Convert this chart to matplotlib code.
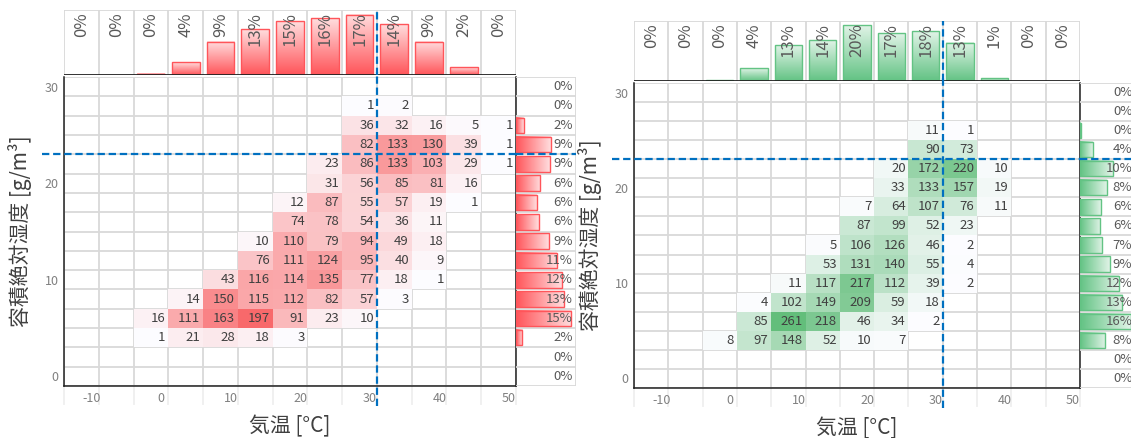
import numpy as np
import matplotlib
matplotlib.use('Agg')
import matplotlib.pyplot as plt
from matplotlib.colors import LinearSegmentedColormap, Normalize, to_rgb
from matplotlib.patches import Rectangle

plt.rcParams['font.family'] = ['Noto Sans CJK JP', 'DejaVu Sans']
plt.rcParams['axes.unicode_minus'] = False

W, H = 1131, 438

# bins: 5 degC wide temperature columns, 2 g/m3 tall humidity rows
temp_edges = np.arange(-14, 52, 5)
hum_edges = np.arange(-1, 32, 2)
temp_ticks = [-10, 0, 10, 20, 30, 40, 50]
hum_ticks = [0, 10, 20, 30]
temp_line = 31
hum_line = 23

xlabel = '気温 [°C]'
ylabel = '容積絶対湿度 [g/m³]'

# hours per bin, rows from 30 g/m3 (top) down to 0 g/m3, columns cold -> hot
red_counts = [
    [0, 0, 0, 0, 0, 0, 0, 0, 0, 0, 0, 0, 0],
    [0, 0, 0, 0, 0, 0, 0, 0, 1, 2, 0, 0, 0],
    [0, 0, 0, 0, 0, 0, 0, 0, 36, 32, 16, 5, 1],
    [0, 0, 0, 0, 0, 0, 0, 0, 82, 133, 130, 39, 1],
    [0, 0, 0, 0, 0, 0, 0, 23, 86, 133, 103, 29, 1],
    [0, 0, 0, 0, 0, 0, 0, 31, 56, 85, 81, 16, 0],
    [0, 0, 0, 0, 0, 0, 12, 87, 55, 57, 19, 1, 0],
    [0, 0, 0, 0, 0, 0, 74, 78, 54, 36, 11, 0, 0],
    [0, 0, 0, 0, 0, 10, 110, 79, 94, 49, 18, 0, 0],
    [0, 0, 0, 0, 0, 76, 111, 124, 95, 40, 9, 0, 0],
    [0, 0, 0, 0, 43, 116, 114, 135, 77, 18, 1, 0, 0],
    [0, 0, 0, 14, 150, 115, 112, 82, 57, 3, 0, 0, 0],
    [0, 0, 16, 111, 163, 197, 91, 23, 10, 0, 0, 0, 0],
    [0, 0, 1, 21, 28, 18, 3, 0, 0, 0, 0, 0, 0],
    [0, 0, 0, 0, 0, 0, 0, 0, 0, 0, 0, 0, 0],
    [0, 0, 0, 0, 0, 0, 0, 0, 0, 0, 0, 0, 0],
]
green_counts = [
    [0, 0, 0, 0, 0, 0, 0, 0, 0, 0, 0, 0, 0],
    [0, 0, 0, 0, 0, 0, 0, 0, 0, 0, 0, 0, 0],
    [0, 0, 0, 0, 0, 0, 0, 0, 11, 1, 0, 0, 0],
    [0, 0, 0, 0, 0, 0, 0, 0, 90, 73, 0, 0, 0],
    [0, 0, 0, 0, 0, 0, 0, 20, 172, 220, 10, 0, 0],
    [0, 0, 0, 0, 0, 0, 0, 33, 133, 157, 19, 0, 0],
    [0, 0, 0, 0, 0, 0, 7, 64, 107, 76, 11, 0, 0],
    [0, 0, 0, 0, 0, 0, 87, 99, 52, 23, 0, 0, 0],
    [0, 0, 0, 0, 0, 5, 106, 126, 46, 2, 0, 0, 0],
    [0, 0, 0, 0, 0, 53, 131, 140, 55, 4, 0, 0, 0],
    [0, 0, 0, 0, 11, 117, 217, 112, 39, 2, 0, 0, 0],
    [0, 0, 0, 4, 102, 149, 209, 59, 18, 0, 0, 0, 0],
    [0, 0, 0, 85, 261, 218, 46, 34, 2, 0, 0, 0, 0],
    [0, 0, 8, 97, 148, 52, 10, 7, 0, 0, 0, 0, 0],
    [0, 0, 0, 0, 0, 0, 0, 0, 0, 0, 0, 0, 0],
    [0, 0, 0, 0, 0, 0, 0, 0, 0, 0, 0, 0, 0],
]

GRID = '#d9d9d9'
DASH = '#0070c0'
TXT = '#404040'


def box(l, t, r, b):
    return [l / W, 1 - b / H, (r - l) / W, (b - t) / H]


def grad_bar(ax, x0, x1, y0, y1, color, along_x):
    base = np.array(to_rgb(color))
    t = np.linspace(0, 1, 60)[:, None]
    cols = base * (1 - 0.8 * t) + 0.8 * t
    img = cols[None, :, :] if along_x else cols[:, None, :]
    ax.imshow(img, extent=(x0, x1, y0, y1), origin='lower', aspect='auto',
              interpolation='bilinear', zorder=2)
    ax.add_patch(Rectangle((x0, y0), x1 - x0, y1 - y0, fill=False,
                           ec=color, lw=1, zorder=3))


def panel(fig, counts, main_px, top_px, side_px, heat_color, bar_color):
    counts = np.array(counts)[::-1]
    total = counts.sum()
    col_pct = counts.sum(axis=0) / total * 100
    row_pct = counts.sum(axis=1) / total * 100
    xc = (temp_edges[:-1] + temp_edges[1:]) / 2
    yc = (hum_edges[:-1] + hum_edges[1:]) / 2
    x0, x1 = temp_edges[0], temp_edges[-1]
    y0, y1 = hum_edges[0], hum_edges[-1]

    # heat map
    ax = fig.add_axes(box(*main_px))
    for x in temp_edges:
        ax.plot([x, x], [y0, y1], color=GRID, lw=1.3, zorder=1)
        ax.plot([x, x], [y0 - 1.9, y0], color='#efefef', lw=1.3, zorder=1, clip_on=False)
    for y in hum_edges:
        ax.plot([x0, x1], [y, y], color=GRID, lw=1.3, zorder=1)
    cmap = LinearSegmentedColormap.from_list('scale', ['#fcfcff', heat_color])
    ax.pcolormesh(temp_edges, hum_edges, np.ma.masked_equal(counts, 0), cmap=cmap,
                  norm=Normalize(1, counts.max()), zorder=2, antialiased=False)
    for i, y in enumerate(yc):
        for j in range(len(xc)):
            if counts[i, j]:
                ax.text(temp_edges[j + 1] - 0.4, y, str(counts[i, j]), ha='right',
                        va='center', fontsize=9.5, color=TXT, zorder=4)
    ax.plot([temp_line, temp_line], [y0 - 2.1, y1 + 0.5], color=DASH, lw=1.6,
            ls=(0, (3.3, 1.7)), zorder=5, clip_on=False)
    ax.plot([x0 - 3.2, x1], [hum_line, hum_line], color=DASH, lw=1.6,
            ls=(0, (3.3, 1.7)), zorder=5, clip_on=False)
    ax.set_xlim(x0, x1)
    ax.set_ylim(y0, y1)
    ax.set_xticks(temp_ticks)
    ax.set_yticks(hum_ticks)
    ax.tick_params(length=0, labelsize=9, labelcolor='#808080', pad=4)
    ax.spines['top'].set_visible(False)
    for s in ('left', 'bottom', 'right'):
        ax.spines[s].set_color('#202020')
        ax.spines[s].set_linewidth(1.1)
    ax.set_xlabel(xlabel, fontsize=15, color=TXT, labelpad=8)
    ax.set_ylabel(ylabel, fontsize=15, color=TXT, labelpad=9)

    # temperature share across the top
    axt = fig.add_axes(box(*top_px))
    for j, p in enumerate(col_pct):
        if p > 0.1:
            grad_bar(axt, xc[j] - 2, xc[j] + 2, 0, p, bar_color, False)
        axt.text(xc[j], 0.96, f'{p:.0f}%', transform=axt.get_xaxis_transform(),
                 rotation=90, ha='center', va='top', fontsize=12, color='#595959', zorder=4)
    top = col_pct.max() / 0.93
    for x in temp_edges:
        axt.plot([x, x], [0, top], color=GRID, lw=1.3, zorder=1)
    axt.plot([x0, x1], [top, top], color=GRID, lw=1.3, zorder=1)
    axt.axhline(0, color='#202020', lw=2, zorder=4)
    axt.axvline(temp_line, color=DASH, lw=1.6, ls=(0, (3.3, 1.7)), zorder=5)
    axt.set_xlim(x0, x1)
    axt.set_ylim(0, top)
    axt.axis('off')

    # humidity share down the side
    axr = fig.add_axes(box(*side_px))
    right = row_pct.max() / 0.92
    for i, p in enumerate(row_pct):
        if p > 0.1:
            grad_bar(axr, 0.05, p, yc[i] - 0.8, yc[i] + 0.8, bar_color, True)
        axr.text(0.95, yc[i], f'{p:.0f}%', transform=axr.get_yaxis_transform(),
                 ha='right', va='center', fontsize=9.5, color='#595959', zorder=4)
    for y in hum_edges:
        axr.plot([0, right], [y, y], color=GRID, lw=1.3, zorder=1)
    axr.plot([right, right], [y0, y1], color=GRID, lw=1.3, zorder=1)
    axr.axhline(hum_line, color=DASH, lw=1.6, ls=(0, (3.3, 1.7)), zorder=5)
    axr.set_xlim(0, right)
    axr.set_ylim(y0, y1)
    axr.axis('off')


fig = plt.figure(figsize=(W / 100, H / 100), dpi=100)
panel(fig, red_counts, (64, 77, 516, 386), (64, 10, 516, 75), (516, 77, 576, 386),
      '#f8696b', '#ff555a')
panel(fig, green_counts, (634, 83, 1080, 388), (634, 21, 1080, 81), (1080, 83, 1135, 388),
      '#63be7b', '#63c384')
fig.savefig('out.png', dpi=100)
